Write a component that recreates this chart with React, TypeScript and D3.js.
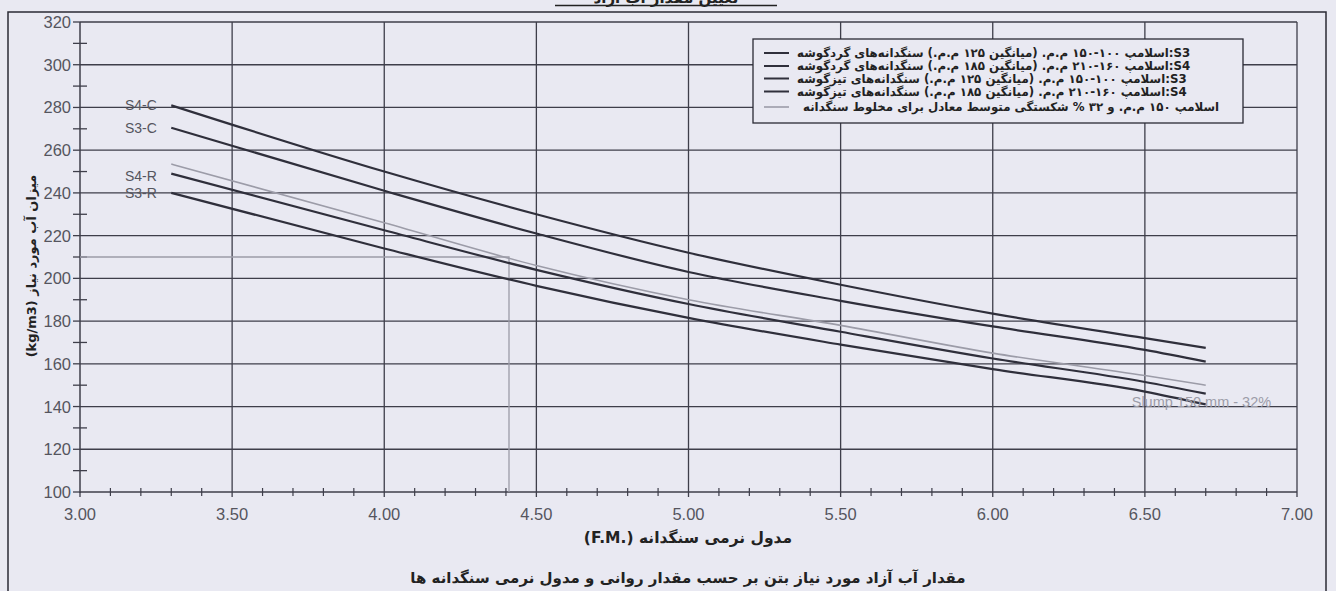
import React from "react";
import * as d3 from "d3";

// Fineness modulus sample points shared by every curve
const fmPoints = [3.3, 4.0, 4.5, 5.0, 5.5, 6.0, 6.5, 6.7];

// Required free water (kg/m3) per curve
const s4Rounded = [281, 250, 230, 212, 197, 183.5, 172, 167.5];
const s3Rounded = [270.5, 241, 221, 203, 189.5, 177.5, 166.5, 161];
const slump150 = [253.5, 226, 206, 190, 178, 165, 154.5, 150];
const s4Crushed = [249, 222.5, 204, 188, 175, 162.5, 151.5, 146];
const s3Crushed = [240, 214, 196.5, 181.5, 169, 157.5, 147, 141];

const curveNames = ["S4-C", "S3-C", "S4-R", "S3-R"];

// Reading guide on the slump-150 curve
const guideWater = 210;
const guideFm = 4.41;

const xTicks = [3.0, 3.5, 4.0, 4.5, 5.0, 5.5, 6.0, 6.5, 7.0];
const yTicks = [100, 120, 140, 160, 180, 200, 220, 240, 260, 280, 300, 320];

const legendItems = [
  "S3:اسلامپ ۱۰۰-۱۵۰ م.م. (میانگین ۱۲۵ م.م.) سنگدانه‌های گردگوشه",
  "S4:اسلامپ ۱۶۰-۲۱۰ م.م. (میانگین ۱۸۵ م.م.) سنگدانه‌های گردگوشه",
  "S3:اسلامپ ۱۰۰-۱۵۰ م.م. (میانگین ۱۲۵ م.م.) سنگدانه‌های تیزگوشه",
  "S4:اسلامپ ۱۶۰-۲۱۰ م.م. (میانگین ۱۸۵ م.م.) سنگدانه‌های تیزگوشه",
  "اسلامپ ۱۵۰ م.م. و ۳۲ % شکستگی متوسط معادل برای مخلوط سنگدانه",
];

const titleText = "تعیین مقدار آب آزاد";
const xTitle = "مدول نرمی سنگدانه \u2066(F.M.)\u2069";
const yTitle = "میزان آب مورد نیاز \u2066(kg/m3)\u2069";
const caption = "مقدار آب آزاد مورد نیاز بتن بر حسب مقدار روانی و مدول نرمی سنگدانه ها";
const slumpLabel = "Slump 150 mm - 32%";

const W = 1336;
const H = 591;
const BG = "#e9e9f2";
const GRID = "#3e3e4a";
const CURVE = "#2f2f3b";
const LIGHT = "#9c9ca8";
const TICKTXT = "#55555e";
const FA = "'DejaVu Sans', 'Noto Sans', sans-serif";
const LAT = "'Liberation Sans', Arial, sans-serif";

export default function App() {
  const x = d3.scaleLinear().domain([3, 7]).range([80, 1297]);
  const y = d3.scaleLinear().domain([100, 320]).range([492, 22]);

  const line = d3
    .line<[number, number]>()
    .x((d) => x(d[0]))
    .y((d) => y(d[1]))
    .curve(d3.curveMonotoneX);

  const toPts = (vals: number[]) => fmPoints.map((f, i) => [f, vals[i]] as [number, number]);

  const darkSeries = [s4Rounded, s3Rounded, s4Crushed, s3Crushed];

  const minorX = d3
    .range(30, 71)
    .map((v) => v / 10)
    .filter((v) => Math.abs(v * 2 - Math.round(v * 2)) > 1e-6);
  const minorY = d3.range(110, 320, 20);

  const legendRowsY = [53, 66, 78.5, 91.5, 107];
  const legendColors = [CURVE, CURVE, CURVE, CURVE, LIGHT];

  return (
    <svg
      width={W}
      height={H}
      style={{ position: "fixed", left: 0, top: 0, display: "block" }}
    >
      <rect x={0} y={0} width={W} height={H} fill={BG} />

      {/* page title, sitting on top of the frame */}
      <text
        x={666}
        y={3}
        textAnchor="middle"
        direction="rtl"
        fontFamily={FA}
        fontWeight="bold"
        fontSize={15}
        fill="#222"
      >
        {titleText}
      </text>
      <line x1={555} x2={777} y1={5.5} y2={5.5} stroke="#222" strokeWidth={1.5} />

      {/* outer frame */}
      <rect x={8} y={12} width={1318} height={600} fill="none" stroke="#2a2a34" strokeWidth={1.5} />

      {/* grid */}
      {yTicks.filter((v) => v > 100).map((v) => (
        <line key={"gy" + v} x1={x(3)} x2={x(7)} y1={y(v)} y2={y(v)} stroke={GRID} strokeWidth={1.3} />
      ))}
      {xTicks.filter((v) => v > 3).map((v) => (
        <line key={"gx" + v} x1={x(v)} x2={x(v)} y1={y(320)} y2={y(100) + 5} stroke={GRID} strokeWidth={1.3} />
      ))}

      {/* axes */}
      <line x1={x(3)} x2={x(3)} y1={y(320)} y2={y(100) + 1} stroke={GRID} strokeWidth={1.5} />
      <line x1={x(3)} x2={x(7)} y1={y(100)} y2={y(100)} stroke={GRID} strokeWidth={1.5} />

      {yTicks.map((v) => (
        <line key={"ty" + v} x1={x(3) - 7} x2={x(3)} y1={y(v)} y2={y(v)} stroke={GRID} strokeWidth={1.3} />
      ))}
      {minorY.map((v) => (
        <line key={"my" + v} x1={x(3) - 7} x2={x(3) + 7} y1={y(v)} y2={y(v)} stroke={GRID} strokeWidth={1.3} />
      ))}
      {minorX.map((v) => (
        <line key={"mx" + v} x1={x(v)} x2={x(v)} y1={y(100) - 4} y2={y(100) + 4} stroke={GRID} strokeWidth={1.2} />
      ))}
      <line x1={x(3)} x2={x(3)} y1={y(100)} y2={y(100) + 5} stroke={GRID} strokeWidth={1.3} />

      {yTicks.map((v) => (
        <text
          key={"ly" + v}
          x={x(3) - 9}
          y={y(v) + 6}
          textAnchor="end"
          fontFamily={LAT}
          fontSize={16.5}
          fill={TICKTXT}
        >
          {v}
        </text>
      ))}
      {xTicks.map((v) => (
        <text
          key={"lx" + v}
          x={x(v)}
          y={y(100) + 28}
          textAnchor="middle"
          fontFamily={LAT}
          fontSize={16.5}
          fill={TICKTXT}
        >
          {v.toFixed(2)}
        </text>
      ))}

      {/* reading guide */}
      <polyline
        points={`${x(3)},${y(guideWater)} ${x(guideFm)},${y(guideWater)} ${x(guideFm)},${y(100)}`}
        fill="none"
        stroke={LIGHT}
        strokeWidth={1.3}
      />

      {/* curves */}
      <path d={line(toPts(slump150)) || ""} fill="none" stroke={LIGHT} strokeWidth={1.6} />
      {darkSeries.map((s, i) => (
        <path key={"c" + i} d={line(toPts(s)) || ""} fill="none" stroke={CURVE} strokeWidth={2.2} />
      ))}

      {/* curve labels */}
      {darkSeries.map((s, i) => (
        <text
          key={"cl" + i}
          x={125}
          y={y(s[0]) + 5 + (i === 2 ? 2 : 0)}
          fontFamily={LAT}
          fontSize={14}
          fill={TICKTXT}
        >
          {curveNames[i]}
        </text>
      ))}
      <text
        x={x(6.7) - 74}
        y={y(s3Crushed[s3Crushed.length - 1]) + 3}
        fontFamily={LAT}
        fontSize={14.5}
        fill={LIGHT}
      >
        {slumpLabel}
      </text>

      {/* legend */}
      <rect x={753} y={39} width={490} height={84} fill={BG} stroke="#2a2a34" strokeWidth={1.3} />
      {legendItems.map((t, i) => (
        <g key={"lg" + i}>
          <line
            x1={764}
            x2={789}
            y1={legendRowsY[i]}
            y2={legendRowsY[i]}
            stroke={legendColors[i]}
            strokeWidth={i === 4 ? 1.6 : 2}
          />
          <text
            x={i === 4 ? 803 : 797}
            y={legendRowsY[i] + 4}
            direction="rtl"
            textAnchor="end"
            fontFamily={FA}
            fontWeight="bold"
            fontSize={11.8}
            fill="#222"
          >
            {t}
          </text>
        </g>
      ))}

      {/* axis titles */}
      <text
        transform={`translate(36, ${266}) rotate(-90)`}
        textAnchor="middle"
        direction="rtl"
        fontFamily={FA}
        fontWeight="bold"
        fontSize={13}
        fill="#222"
      >
        {yTitle}
      </text>
      <text
        x={688}
        y={543}
        textAnchor="middle"
        direction="rtl"
        fontFamily={FA}
        fontWeight="bold"
        fontSize={15.5}
        fill="#222"
      >
        {xTitle}
      </text>
      <text
        x={688}
        y={583}
        textAnchor="middle"
        direction="rtl"
        fontFamily={FA}
        fontWeight="bold"
        fontSize={15}
        fill="#222"
      >
        {caption}
      </text>
    </svg>
  );
}
